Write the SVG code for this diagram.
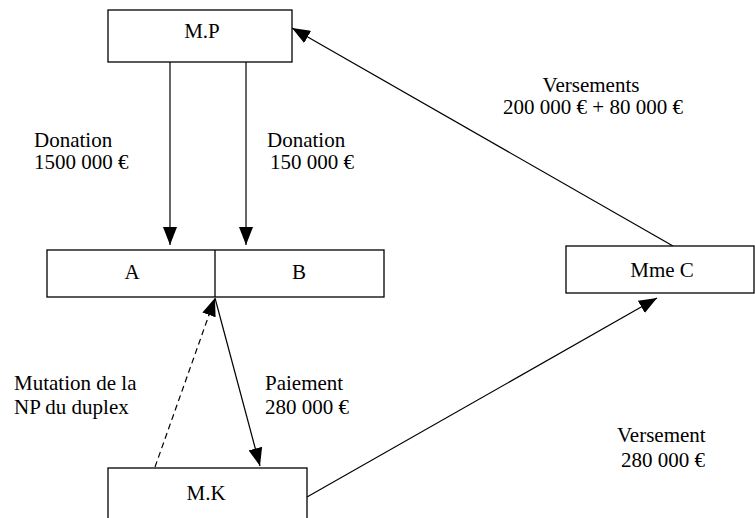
<svg xmlns="http://www.w3.org/2000/svg" width="755" height="518" viewBox="0 0 755 518">
<defs>
  <marker id="ah" markerUnits="userSpaceOnUse" markerWidth="20" markerHeight="14" refX="18" refY="7" orient="auto">
    <path d="M0,0 L18,7 L0,14 z" fill="#000"/>
  </marker>
</defs>
<rect width="755" height="518" fill="#fff"/>

<g id="connectors" stroke="#000" stroke-width="1.2" fill="none">
  <line x1="170" y1="62" x2="170" y2="245" marker-end="url(#ah)"/>
  <line x1="246" y1="62" x2="246" y2="245" marker-end="url(#ah)"/>
  <line x1="673" y1="246" x2="292" y2="28" marker-end="url(#ah)"/>
  <line x1="155" y1="467" x2="215" y2="298" stroke-dasharray="6,4" marker-end="url(#ah)"/>
  <line x1="215" y1="298" x2="260" y2="466" marker-end="url(#ah)"/>
  <line x1="307" y1="497" x2="657" y2="298" marker-end="url(#ah)"/>
</g>

<g id="node-mp">
  <rect x="108" y="10" width="184" height="52" fill="#fff" stroke="#000" stroke-width="1.3"/>
  <text x="202" y="38" text-anchor="middle" font-family="Times New Roman" font-size="21">M.P</text>
</g>
<g id="node-ab">
  <rect x="47" y="250" width="337" height="47" fill="#fff" stroke="#000" stroke-width="1.3"/>
  <line x1="215" y1="250" x2="215" y2="297" stroke="#000" stroke-width="1.3"/>
  <text x="132" y="279" text-anchor="middle" font-family="Times New Roman" font-size="21">A</text>
  <text x="299" y="279" text-anchor="middle" font-family="Times New Roman" font-size="21">B</text>
</g>
<g id="node-mmec">
  <rect x="566" y="246" width="188" height="47" fill="#fff" stroke="#000" stroke-width="1.3"/>
  <text x="662" y="277" text-anchor="middle" font-family="Times New Roman" font-size="21">Mme C</text>
</g>
<g id="node-mk">
  <rect x="108" y="468" width="199" height="70" fill="#fff" stroke="#000" stroke-width="1.3"/>
  <text x="206" y="500" text-anchor="middle" font-family="Times New Roman" font-size="21">M.K</text>
</g>

<g id="labels">
  <text x="34" y="147" font-family="Times New Roman" font-size="21">Donation</text>
  <text x="34" y="169" font-family="Times New Roman" font-size="21">1500 000 €</text>
  <text x="267" y="147" font-family="Times New Roman" font-size="21">Donation</text>
  <text x="270" y="169" font-family="Times New Roman" font-size="21">150 000 €</text>
  <text x="591" y="92" text-anchor="middle" font-family="Times New Roman" font-size="21">Versements</text>
  <text x="593" y="114" text-anchor="middle" font-family="Times New Roman" font-size="21">200 000 € + 80 000 €</text>
  <text x="14" y="390" font-family="Times New Roman" font-size="21">Mutation de la</text>
  <text x="14" y="414" font-family="Times New Roman" font-size="21">NP du duplex</text>
  <text x="265" y="390" font-family="Times New Roman" font-size="21">Paiement</text>
  <text x="265" y="414" font-family="Times New Roman" font-size="21">280 000 €</text>
  <text x="617" y="442" font-family="Times New Roman" font-size="21">Versement</text>
  <text x="621" y="467" font-family="Times New Roman" font-size="21">280 000 €</text>
</g>
</svg>
